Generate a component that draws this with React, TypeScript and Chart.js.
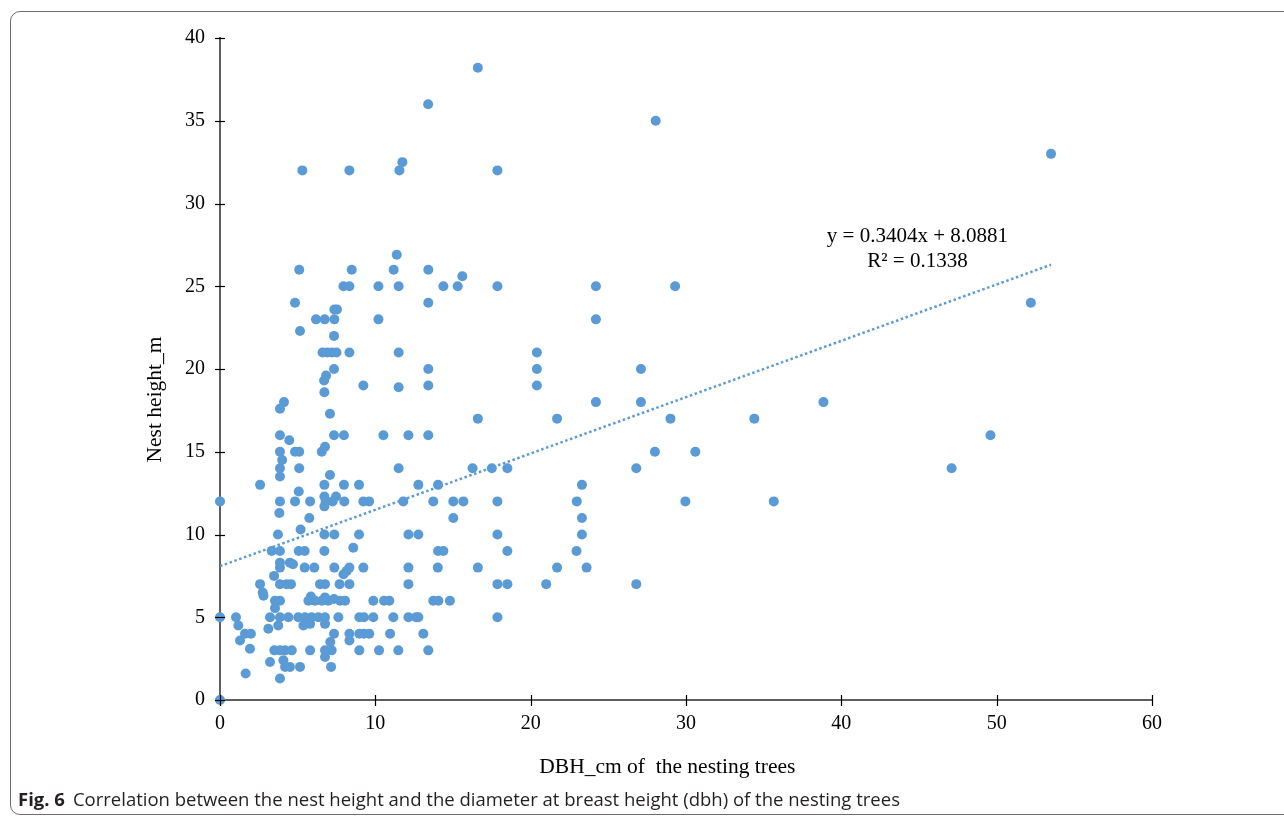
import React, { useEffect, useRef } from "react";
import { Chart, registerables } from "chart.js";

Chart.register(...registerables);

// DBH (cm) of each nesting tree
const DBH_CM: number[] = [
  5.3, 8.33, 11.55, 11.74, 13.4, 16.6, 17.86, 11.38, 28.05, 53.5, 52.2, 38.85, 49.6, 47.1,
  17.86, 24.2, 29.3, 24.2, 20.4, 20.4, 27.1, 20.4, 24.2, 27.1, 16.6, 21.7, 29.0, 34.4, 28.0, 30.6,
  17.5, 18.5, 26.8, 23.3, 17.86, 22.97, 29.96, 35.65, 23.3, 17.86, 23.3, 18.5, 22.95, 16.6, 21.7,
  23.6, 17.86, 18.5, 21.0, 26.8, 17.86,
  5.1, 8.48, 11.18, 13.41, 15.6,
  7.95, 8.33, 10.2, 11.5, 14.38, 15.3,
  4.83, 13.41,
  7.36, 7.53,
  6.18, 6.74, 7.36, 10.2,
  5.15, 7.34,
  6.6, 6.9, 7.2, 7.5, 8.33, 11.5,
  7.34, 13.41,
  6.83, 6.7,
  9.23, 13.41, 11.5,
  6.72, 4.12, 3.86, 7.08,
  3.86, 7.34, 7.98, 10.52, 12.13, 13.41,
  4.46, 6.76,
  3.86, 4.83, 5.1, 6.55,
  4.0,
  3.86, 5.1, 11.5, 16.26,
  7.08, 3.86,
  2.58, 6.72, 7.98, 8.95, 12.77, 14.04,
  5.07, 6.72, 7.47,
  0, 3.86, 4.83, 5.8, 6.8, 7.25, 8.0, 9.23, 9.6, 11.8, 13.73, 15.02, 15.67,
  6.72, 3.82, 5.75, 15.02,
  5.19,
  3.73, 6.72, 7.36, 8.95, 12.13, 12.77,
  8.58,
  3.33, 3.86, 5.07, 5.45, 6.72, 14.04, 14.38,
  3.86, 4.5, 4.7,
  3.86, 5.45, 6.07, 7.36, 8.33, 9.23, 12.13, 14.02,
  8.16, 7.95, 3.48,
  2.58, 3.86, 4.29, 4.57, 6.44, 6.76, 7.7, 8.33, 12.13,
  2.75, 2.8, 5.85, 6.76, 7.34,
  3.54, 3.86, 5.69, 6.12, 6.55, 6.97, 7.73, 8.05, 9.87, 10.56, 10.9, 13.73, 14.06, 14.8,
  3.54,
  0, 1.03, 3.22, 3.86, 4.4, 5.04, 5.47, 5.9, 6.33, 6.76, 7.62, 8.97, 9.27, 9.87, 11.16, 12.13, 12.62, 12.77,
  1.18, 3.75, 5.37, 5.8, 6.76,
  3.11,
  1.61, 1.99, 7.34, 8.33, 8.97, 9.27, 9.61, 10.95, 13.09,
  1.29, 8.33, 7.1,
  1.93,
  3.5, 3.86, 4.19, 4.62, 5.8, 6.76, 7.19, 8.97, 10.24, 11.48, 13.41,
  6.76, 4.08, 3.22,
  4.19, 4.5, 5.15, 7.15,
  1.65, 3.86, 0,
];

// Nest height (m), same order as DBH_CM
const NEST_HEIGHT_M: number[] = [
  32, 32, 32, 32.5, 36, 38.2, 32, 26.9, 35, 33, 24, 18, 16, 14,
  25, 25, 25, 23, 21, 20, 20, 19, 18, 18, 17, 17, 17, 17, 15, 15,
  14, 14, 14, 13, 12, 12, 12, 12, 11, 10, 10, 9, 9, 8, 8,
  8, 7, 7, 7, 7, 5,
  26, 26, 26, 26, 25.6,
  25, 25, 25, 25, 25, 25,
  24, 24,
  23.6, 23.6,
  23, 23, 23, 23,
  22.3, 22,
  21, 21, 21, 21, 21, 21,
  20, 20,
  19.6, 19.3,
  19, 19, 18.9,
  18.6, 18, 17.6, 17.3,
  16, 16, 16, 16, 16, 16,
  15.7, 15.3,
  15, 15, 15, 15,
  14.5,
  14, 14, 14, 14,
  13.6, 13.5,
  13, 13, 13, 13, 13, 13,
  12.6, 12.3, 12.3,
  12, 12, 12, 12, 12, 12, 12, 12, 12, 12, 12, 12, 12,
  11.7, 11.3, 11, 11,
  10.3,
  10, 10, 10, 10, 10, 10,
  9.2,
  9, 9, 9, 9, 9, 9, 9,
  8.3, 8.3, 8.2,
  8, 8, 8, 8, 8, 8, 8, 8,
  7.8, 7.6, 7.5,
  7, 7, 7, 7, 7, 7, 7, 7, 7,
  6.5, 6.3, 6.25, 6.2, 6.1,
  6, 6, 6, 6, 6, 6, 6, 6, 6, 6, 6, 6, 6, 6,
  5.55,
  5, 5, 5, 5, 5, 5, 5, 5, 5, 5, 5, 5, 5, 5, 5, 5, 5, 5,
  4.5, 4.5, 4.5, 4.6, 4.6,
  4.3,
  4, 4, 4, 4, 4, 4, 4, 4, 4,
  3.6, 3.6, 3.5,
  3.1,
  3, 3, 3, 3, 3, 3, 3, 3, 3, 3, 3,
  2.6, 2.4, 2.3,
  2, 2, 2, 2,
  1.6, 1.3, 0,
];

const X_MIN = 0;
const X_MAX = 60;
const X_STEP = 10;
const Y_MIN = 0;
const Y_MAX = 40;
const Y_STEP = 5;

const TREND_SLOPE = 0.3404;
const TREND_INTERCEPT = 8.0881;
const TREND_X_RANGE = [0, 53.5];

const EQUATION_LINES = ["y = 0.3404x + 8.0881", "R\u00B2 = 0.1338"];
const EQUATION_ANCHOR = { x: 44.9, y: 28.0 };

const X_TITLE = "DBH_cm of  the nesting trees";
const Y_TITLE = "Nest height_m";
const CAPTION_BOLD = "Fig. 6";
const CAPTION_TEXT =
  "Correlation between the nest height and the diameter at breast height (dbh) of the nesting trees";

const BLUE = "#5B9BD5";
const SERIF = '"Liberation Serif", "Times New Roman", serif';

const decorPlugin = {
  id: "decor",
  afterDraw(chart: any) {
    const ctx = chart.ctx;
    const xs = chart.scales.x;
    const ys = chart.scales.y;
    const area = chart.chartArea;
    ctx.save();
    ctx.strokeStyle = "#000";
    ctx.lineWidth = 1.2;
    xs.ticks.forEach((t: any) => {
      const px = Math.round(xs.getPixelForValue(t.value)) + 0.5;
      ctx.beginPath();
      ctx.moveTo(px, area.bottom - 5);
      ctx.lineTo(px, area.bottom + 6);
      ctx.stroke();
    });
    ys.ticks.forEach((t: any) => {
      const py = Math.round(ys.getPixelForValue(t.value)) + 0.5;
      ctx.beginPath();
      ctx.moveTo(area.left - 5, py);
      ctx.lineTo(area.left + 5, py);
      ctx.stroke();
    });
    ctx.fillStyle = "#000";
    ctx.textAlign = "center";
    ctx.textBaseline = "middle";
    // regression equation
    ctx.font = `21px ${SERIF}`;
    const cx = xs.getPixelForValue(EQUATION_ANCHOR.x);
    const cy = ys.getPixelForValue(EQUATION_ANCHOR.y);
    EQUATION_LINES.forEach((line, i) => {
      ctx.fillText(line, cx, cy + i * 24.5);
    });
    // axis titles
    ctx.font = `21.5px ${SERIF}`;
    ctx.fillText(X_TITLE, area.left + (area.right - area.left) * 0.48, area.bottom + 67);
    ctx.translate(area.left - 65, area.top + (area.bottom - area.top) * 0.546);
    ctx.rotate(-Math.PI / 2);
    ctx.fillText(Y_TITLE, 0, 0);
    ctx.restore();
  },
};

export default function App() {
  const canvasRef = useRef<HTMLCanvasElement | null>(null);

  useEffect(() => {
    if (!canvasRef.current) return;
    const points = DBH_CM.map((x, i) => ({ x, y: NEST_HEIGHT_M[i] }));
    const trend = TREND_X_RANGE.map((x) => ({ x, y: TREND_SLOPE * x + TREND_INTERCEPT }));

    const chart = new Chart(canvasRef.current, {
      type: "scatter",
      data: {
        datasets: [
          {
            label: "Nest height",
            data: points,
            backgroundColor: BLUE,
            borderColor: BLUE,
            borderWidth: 0,
            pointRadius: 5,
            pointHoverRadius: 5,
            clip: false,
            order: 2,
          } as any,
          {
            type: "line",
            label: "Linear trend",
            data: trend,
            borderColor: BLUE,
            borderWidth: 2.5,
            borderDash: [2.5, 2.6],
            pointRadius: 0,
            fill: false,
            tension: 0,
            order: 1,
          } as any,
        ],
      },
      options: {
        responsive: false,
        animation: false,
        devicePixelRatio: 1,
        layout: { padding: { left: 142, right: 132, top: 38, bottom: 38 } },
        plugins: {
          legend: { display: false },
          tooltip: { enabled: false },
          title: { display: false },
        },
        scales: {
          x: {
            type: "linear",
            min: X_MIN,
            max: X_MAX,
            afterFit(scale: any) {
              scale.height = 80;
            },
            ticks: {
              stepSize: X_STEP,
              color: "#000",
              font: { family: SERIF, size: 20 },
              padding: 4,
            },
            grid: { display: false },
            border: { display: true, color: "#5f5f5f", width: 2 },
            title: { display: false },
          },
          y: {
            type: "linear",
            min: Y_MIN,
            max: Y_MAX,
            afterFit(scale: any) {
              scale.width = 78;
            },
            ticks: {
              stepSize: Y_STEP,
              color: "#000",
              font: { family: SERIF, size: 20 },
              padding: 7,
            },
            grid: { display: false },
            border: { display: true, color: "#5f5f5f", width: 2 },
            title: { display: false },
          },
        },
      },
      plugins: [decorPlugin],
    });
    return () => chart.destroy();
  }, []);

  return (
    <div
      style={{
        position: "fixed",
        left: 0,
        top: 0,
        width: 1284,
        height: 818,
        background: "#fff",
        overflow: "hidden",
      }}
    >
      <div
        style={{
          position: "absolute",
          left: 10,
          top: 11,
          width: 1400,
          height: 804,
          border: "1px solid #6d6d6d",
          borderRadius: 10,
          boxSizing: "border-box",
        }}
      />
      <canvas
        ref={canvasRef}
        width={1284}
        height={818}
        style={{ position: "absolute", left: 0, top: 0, width: 1284, height: 818 }}
      />
      <div
        style={{
          position: "absolute",
          left: 18,
          top: 788,
          fontFamily: '"Open Sans", "Noto Sans", sans-serif',
          fontSize: 18.5,
          lineHeight: "22px",
          color: "#231f20",
          whiteSpace: "nowrap",
        }}
      >
        <span style={{ fontWeight: 700 }}>{CAPTION_BOLD}</span>
        <span style={{ marginLeft: 8 }}>{CAPTION_TEXT}</span>
      </div>
    </div>
  );
}
